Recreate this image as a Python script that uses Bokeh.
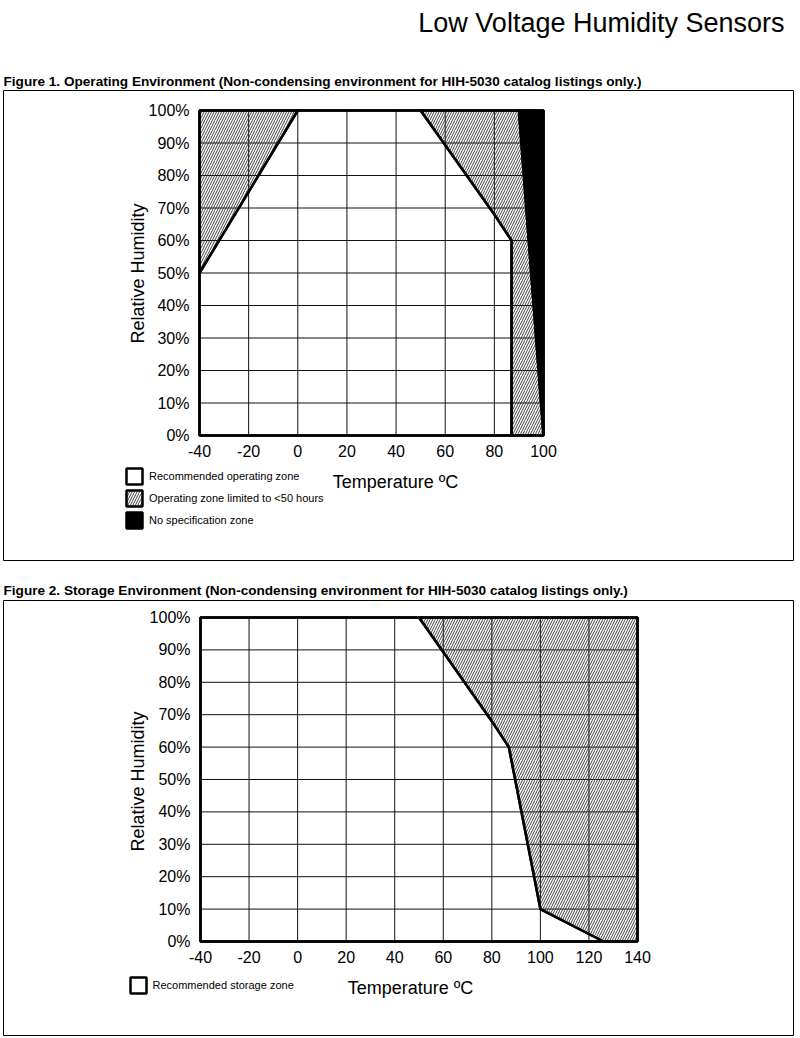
from bokeh.plotting import figure
from bokeh.models import (Range1d, FixedTicker, Label, BoxAnnotation, Legend, LegendItem, LinearAxis)
from bokeh.embed import file_html
from bokeh.resources import INLINE

# ---------------- data ----------------
page_title = "Low Voltage Humidity Sensors"
fig1_caption = "Figure 1. Operating Environment (Non-condensing environment for HIH-5030 catalog listings only.)"
fig2_caption = "Figure 2. Storage Environment (Non-condensing environment for HIH-5030 catalog listings only.)"
x_title = "Temperature ºC"
y_title = "Relative Humidity"

rh_ticks = [0, 10, 20, 30, 40, 50, 60, 70, 80, 90, 100]
rh_tick_labels = ["0%", "10%", "20%", "30%", "40%", "50%", "60%", "70%", "80%", "90%", "100%"]
op_temp_ticks = [-40, -20, 0, 20, 40, 60, 80, 100]
op_temp_labels = ["-40", "-20", "0", "20", "40", "60", "80", "100"]
st_temp_ticks = [-40, -20, 0, 20, 40, 60, 80, 100, 120, 140]
st_temp_labels = ["-40", "-20", "0", "20", "40", "60", "80", "100", "120", "140"]

# Figure 1: operating environment zones (temperature °C, RH %)
op_recommended_t = [-40, -40, 0, 50, 80, 87, 87]
op_recommended_rh = [0, 50, 100, 100, 68, 60, 0]
op_limited_left_t = [-40, -40, 0]
op_limited_left_rh = [50, 100, 100]
op_limited_right_t = [50, 90, 100, 87, 87, 80]
op_limited_right_rh = [100, 100, 0, 0, 60, 68]
op_nospec_t = [90, 100, 100]
op_nospec_rh = [100, 100, 0]

# Figure 2: storage environment zones
st_recommended_t = [-40, -40, 50, 80, 87, 100, 126]
st_recommended_rh = [0, 100, 100, 68, 60, 10, 0]
st_outside_t = [50, 140, 140, 126, 100, 87, 80]
st_outside_rh = [100, 100, 0, 0, 10, 60, 68]

legend1_labels = ["Recommended operating zone", "Operating zone limited to <50 hours", "No specification zone"]
legend2_labels = ["Recommended storage zone"]

# ---------------- layout helpers ----------------
W, H = 800, 1038
SANS = "Liberation Sans"
HATCH = dict(hatch_pattern="/", hatch_color="#2e2e2e", hatch_scale=5, hatch_weight=0.9)


def lin_range(v0, px0, v1, px1, cpx_start, cpx_end):
    k = (v1 - v0) / (px1 - px0)
    return Range1d(v0 + (cpx_start - px0) * k, v0 + (cpx_end - px0) * k)


# plot-area pixel anchors on the page (left, right, top, bottom)
CH1 = dict(left=199, right=543, top=110, bottom=435)
CH2 = dict(left=200, right=637, top=617, bottom=941)

extra_x = {
    "t1": lin_range(op_temp_ticks[0], CH1["left"], op_temp_ticks[-1], CH1["right"], 0, W),
    "t2": lin_range(st_temp_ticks[0], CH2["left"], st_temp_ticks[-1], CH2["right"], 0, W),
}
extra_y = {
    "rh1": lin_range(rh_ticks[0], CH1["bottom"], rh_ticks[-1], CH1["top"], H, 0),
    "rh2": lin_range(rh_ticks[0], CH2["bottom"], rh_ticks[-1], CH2["top"], H, 0),
}

p = figure(width=W, height=H, x_range=Range1d(0, W), y_range=Range1d(H, 0),
           x_axis_location=None, y_axis_location=None, min_border=0,
           output_backend="svg", toolbar_location=None,
           background_fill_color="white", border_fill_color="white", outline_line_color=None)
p.grid.visible = False
p.extra_x_ranges = extra_x
p.extra_y_ranges = extra_y


def add_axes(xr, yr, xticks, xlabels):
    xax = LinearAxis(x_range_name=xr, y_range_name=yr, fixed_location=rh_ticks[0],
                     ticker=FixedTicker(ticks=xticks),
                     major_label_overrides={t: l for t, l in zip(xticks, xlabels)})
    yax = LinearAxis(x_range_name=xr, y_range_name=yr, fixed_location=xticks[0],
                     ticker=FixedTicker(ticks=rh_ticks),
                     major_label_overrides={t: l for t, l in zip(rh_ticks, rh_tick_labels)})
    for ax in (xax, yax):
        ax.axis_line_color = None
        ax.major_tick_line_color = None
        ax.minor_tick_line_color = None
        ax.major_tick_out = 0
        ax.major_tick_in = 0
        ax.major_label_text_font = SANS
        ax.major_label_text_font_size = "16px"
        ax.major_label_text_color = "black"
    xax.major_label_standoff = 9
    yax.major_label_standoff = 10
    p.add_layout(xax, "below")
    p.add_layout(yax, "left")


def add_grid(xr, yr, xticks):
    n = len(xticks)
    m = len(rh_ticks)
    p.segment(x0=xticks, y0=[rh_ticks[0]] * n, x1=xticks, y1=[rh_ticks[-1]] * n,
              x_range_name=xr, y_range_name=yr, line_color="#111111", line_width=1)
    p.segment(x0=[xticks[0]] * m, y0=rh_ticks, x1=[xticks[-1]] * m, y1=rh_ticks,
              x_range_name=xr, y_range_name=yr, line_color="#111111", line_width=1)


def add_outline(xr, yr, xticks):
    p.quad(left=[xticks[0]], right=[xticks[-1]], bottom=[rh_ticks[0]], top=[rh_ticks[-1]],
           x_range_name=xr, y_range_name=yr, fill_color=None, line_color="black", line_width=2.5)


def canvas_label(x, y, text, size, style="normal", align="left", angle=0):
    p.add_layout(Label(x=x, y=y, x_units="canvas", y_units="canvas", text=text,
                       text_font=SANS, text_font_size=size, text_font_style=style,
                       text_align=align, text_baseline="middle", text_color="black",
                       angle=angle, angle_units="deg"))


def canvas_box(left, right, top, bottom):
    p.add_layout(BoxAnnotation(left=left, right=right, top=top, bottom=bottom,
                               left_units="canvas", right_units="canvas",
                               top_units="canvas", bottom_units="canvas",
                               fill_color=None, fill_alpha=0, line_color="black",
                               line_width=1, line_alpha=1))


def make_legend(items, loc):
    return Legend(items=items, location=loc, orientation="vertical", padding=0, margin=0,
                  spacing=2, glyph_width=20, glyph_height=20, label_height=20, label_standoff=5,
                  label_text_font=SANS, label_text_font_size="11px", label_text_color="black",
                  border_line_color=None, background_fill_alpha=0)


# ---------------- Figure 1 ----------------
add_grid("t1", "rh1", op_temp_ticks)
r_rec1 = p.patch(op_recommended_t, op_recommended_rh, x_range_name="t1", y_range_name="rh1",
                 fill_color=None, line_color="black", line_width=2.5)
r_lim1 = p.patches([op_limited_left_t, op_limited_right_t], [op_limited_left_rh, op_limited_right_rh],
                   x_range_name="t1", y_range_name="rh1",
                   fill_color=None, line_color="black", line_width=2.5, **HATCH)
r_nos1 = p.patch(op_nospec_t, op_nospec_rh, x_range_name="t1", y_range_name="rh1",
                 fill_color="black", line_color="black", line_width=2.5)
add_outline("t1", "rh1", op_temp_ticks)
add_axes("t1", "rh1", op_temp_ticks, op_temp_labels)

p.add_layout(make_legend([LegendItem(label=legend1_labels[0], renderers=[r_rec1]),
                          LegendItem(label=legend1_labels[1], renderers=[r_lim1]),
                          LegendItem(label=legend1_labels[2], renderers=[r_nos1])],
                         (124, H - 530)))

canvas_label(784, 22, page_title, "27px", align="right")
canvas_label(3, 81, fig1_caption, "13.6px", style="bold")
canvas_box(3, 793, 90, 560)
canvas_label(395, 481, x_title, "18px", align="center")
canvas_label(137, 273, y_title, "18px", align="center", angle=90)

# ---------------- Figure 2 ----------------
add_grid("t2", "rh2", st_temp_ticks)
r_rec2 = p.patch(st_recommended_t, st_recommended_rh, x_range_name="t2", y_range_name="rh2",
                 fill_color=None, line_color="black", line_width=2.5)
p.patch(st_outside_t, st_outside_rh, x_range_name="t2", y_range_name="rh2",
        fill_color=None, line_color="black", line_width=2.5, **HATCH)
add_outline("t2", "rh2", st_temp_ticks)
add_axes("t2", "rh2", st_temp_ticks, st_temp_labels)

p.add_layout(make_legend([LegendItem(label=legend2_labels[0], renderers=[r_rec2])],
                         (127.5, H - 995)))

canvas_label(3, 590, fig2_caption, "13.6px", style="bold")
canvas_box(3, 793, 600, 1035)
canvas_label(410, 987, x_title, "18px", align="center")
canvas_label(137, 781, y_title, "18px", align="center", angle=90)

open("out.html", "w").write(file_html(p, INLINE))
